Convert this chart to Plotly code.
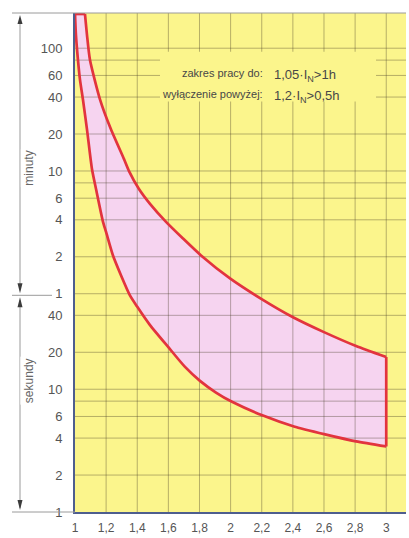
import plotly.graph_objects as go

# Multiples of rated current I/In
x_ticks = [1.0, 1.2, 1.4, 1.6, 1.8, 2.0, 2.2, 2.4, 2.6, 2.8, 3.0]
x_labels = ["1", "1,2", "1,4", "1,6", "1,8", "2", "2,2", "2,4", "2,6", "2,8", "3"]

# Time axis in seconds (log); labels in seconds below 1 min, minutes above
y_ticks = [1, 2, 4, 6, 10, 20, 40, 60, 120, 240, 360, 600, 1200, 2400, 3600, 6000]
y_labels = ["1", "2", "4", "6", "10", "20", "40",
            "1", "2", "4", "6", "10", "20", "40", "60", "100"]

# Grid positions
x_grid = [1.2, 1.4, 1.6, 1.8, 2.0, 2.2, 2.4, 2.6, 2.8, 3.0]
y_grid = [2, 4, 6, 8, 10, 20, 40, 60, 120, 240, 360, 480, 600,
          1200, 2400, 3600, 4800, 6000]

# Lower boundary of the tripping band (x, seconds)
lower_x = [1.0, 1.006, 1.019, 1.032, 1.051, 1.077, 1.109, 1.135, 1.18,
           1.199, 1.244, 1.296, 1.353, 1.398, 1.482, 1.604, 1.707, 1.803,
           1.906, 2.009, 2.208, 2.407, 2.607, 2.806, 3.0]
lower_t = [11400, 7700, 4830, 3330, 2290, 1310, 622, 428, 231,
           192, 123, 84.6, 58.2, 47.4, 33.3, 21.7, 15.2, 11.7,
           9.4, 7.9, 6.1, 4.97, 4.29, 3.76, 3.42]

# Upper boundary of the tripping band (x, seconds)
upper_x = [1.064, 1.077, 1.096, 1.161, 1.231, 1.315, 1.347, 1.411, 1.482,
           1.585, 1.694, 1.81, 1.996, 2.202, 2.401, 2.6, 2.806, 3.0]
upper_t = [11400, 7700, 4830, 2290, 1310, 749, 599, 428, 324,
           231, 169, 123, 80, 54, 38.6, 29.2, 22.5, 18.3]

X_MAX = 3.127
Y_LOG_MAX = 4.065
T_MAX = 10 ** Y_LOG_MAX

YELLOW = "#fbf58c"
PINK = "#f6d4f0"
RED = "#e2343e"
AXIS_BLUE = "#4e5e8e"
GRID = "rgba(70,60,40,0.38)"
DECOR = "#9a9a9a"
TEXT = "#474747"

W, H = 409, 538
L, R, T, B = 75, 406, 13, 515
SMOOTH = 0.6


def pxx(px):
    return (px - L) / (R - L)


def pxy(py):
    return (B - py) / (B - T)


fig = go.Figure()

# pink band between the two boundaries
fig.add_trace(go.Scatter(
    x=lower_x, y=lower_t, mode="lines",
    line=dict(width=0, shape="spline", smoothing=SMOOTH),
    hoverinfo="skip", showlegend=False))
fig.add_trace(go.Scatter(
    x=upper_x, y=upper_t, mode="lines", fill="tonexty", fillcolor=PINK,
    line=dict(width=0, shape="spline", smoothing=SMOOTH),
    hoverinfo="skip", showlegend=False))

# grid drawn over the band
gx, gy = [], []
for v in x_grid:
    gx += [v, v, None]
    gy += [1, T_MAX, None]
for v in y_grid:
    gx += [1, X_MAX, None]
    gy += [v, v, None]
fig.add_trace(go.Scatter(
    x=gx, y=gy, mode="lines", line=dict(color=GRID, width=1),
    hoverinfo="skip", showlegend=False))

# red outline
for xs, ts in [(lower_x, lower_t), (upper_x, upper_t)]:
    fig.add_trace(go.Scatter(
        x=xs, y=ts, mode="lines",
        line=dict(color=RED, width=2.7, shape="spline", smoothing=SMOOTH),
        hoverinfo="skip", showlegend=False))
for xs, ts in [([lower_x[0], upper_x[0]], [lower_t[0], upper_t[0]]),
               ([lower_x[-1], upper_x[-1]], [lower_t[-1], upper_t[-1]])]:
    fig.add_trace(go.Scatter(
        x=xs, y=ts, mode="lines", line=dict(color=RED, width=2.7),
        hoverinfo="skip", showlegend=False))

shapes = []
# cover behind the note text
shapes.append(dict(type="rect", xref="paper", yref="paper",
                   x0=pxx(160), x1=pxx(376), y0=pxy(102), y1=pxy(52),
                   fillcolor=YELLOW, line=dict(width=0), layer="above"))
# frame top line and decoration lines on the left
shapes.append(dict(type="line", xref="paper", yref="paper",
                   x0=pxx(12), x1=1, y0=1, y1=1,
                   line=dict(color=DECOR, width=1)))
shapes.append(dict(type="line", xref="paper", yref="paper",
                   x0=pxx(12), x1=0, y0=0, y1=0,
                   line=dict(color=DECOR, width=1)))
shapes.append(dict(type="line", xref="paper", yref="paper",
                   x0=pxx(12), x1=pxx(52), y0=pxy(297), y1=pxy(297),
                   line=dict(color=DECOR, width=1)))
AX = 20
shapes.append(dict(type="line", xref="paper", yref="paper",
                   x0=pxx(AX), x1=pxx(AX), y0=pxy(18), y1=pxy(292),
                   line=dict(color=DECOR, width=1)))
shapes.append(dict(type="line", xref="paper", yref="paper",
                   x0=pxx(AX), x1=pxx(AX), y0=pxy(302), y1=pxy(511),
                   line=dict(color=DECOR, width=1)))


def arrow(tip, base):
    hw = 2.5
    p = "M {} {} L {} {} L {} {} Z".format(
        pxx(AX), pxy(tip), pxx(AX - hw), pxy(base), pxx(AX + hw), pxy(base))
    return dict(type="path", xref="paper", yref="paper", path=p,
                fillcolor="#3c3c3c", line=dict(width=0))


shapes += [arrow(15, 24), arrow(295, 285), arrow(299, 309), arrow(513, 503)]

annotations = [
    dict(text="minuty", x=pxx(AX), y=pxy(150), xref="paper", yref="paper",
         textangle=-90, showarrow=False, bgcolor="white",
         font=dict(size=12, color="#666666", family="Liberation Sans")),
    dict(text="sekundy", x=pxx(AX), y=pxy(408), xref="paper", yref="paper",
         textangle=-90, showarrow=False, bgcolor="white",
         font=dict(size=12, color="#666666", family="Liberation Sans")),
]

left_font = dict(size=11, color=TEXT, family="Liberation Sans")
right_font = dict(size=13, color=TEXT, family="Liberation Sans")
for row_y, left_txt, right_txt in [
        (65, "zakres pracy do:", "1,05·I<sub>N</sub>>1h"),
        (86, "wyłączenie powyżej:", "1,2·I<sub>N</sub>>0,5h")]:
    annotations.append(dict(text=left_txt, x=pxx(265), y=pxy(row_y),
                            xref="paper", yref="paper", xanchor="right",
                            showarrow=False, font=left_font))
    annotations.append(dict(text=right_txt, x=pxx(272), y=pxy(row_y),
                            xref="paper", yref="paper", xanchor="left",
                            showarrow=False, font=right_font))

fig.update_layout(
    width=W, height=H,
    margin=dict(l=L, r=W - R, t=T, b=H - B),
    paper_bgcolor="white", plot_bgcolor=YELLOW,
    shapes=shapes, annotations=annotations,
    font=dict(family="Liberation Sans", color="#555555"),
)
fig.update_xaxes(range=[1, X_MAX], tickvals=x_ticks, ticktext=x_labels,
                 showgrid=False, zeroline=False, showline=True,
                 linecolor=AXIS_BLUE, linewidth=2,
                 ticks="outside", ticklen=4, tickcolor="rgba(0,0,0,0)",
                 tickfont=dict(size=12, color="#555555"))
fig.update_yaxes(type="log", range=[0, Y_LOG_MAX], tickvals=y_ticks,
                 ticktext=y_labels, showgrid=False, zeroline=False,
                 showline=True, linecolor=AXIS_BLUE, linewidth=2,
                 ticks="outside", ticklen=8, tickcolor="rgba(0,0,0,0)",
                 tickfont=dict(size=13, color="#555555"))

fig.write_html("out.html")
